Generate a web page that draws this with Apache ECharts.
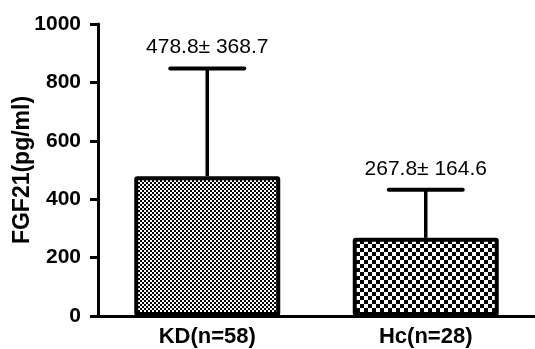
<!DOCTYPE html>
<html><head><meta charset="utf-8">
<script src="https://cdn.jsdelivr.net/npm/echarts@6/dist/echarts.min.js"></script>
<style>html,body{margin:0;padding:0;background:#fff}#c{width:535px;height:349px}</style>
</head><body><div id="c"></div>
<script>
var categories = ['KD(n=58)', 'Hc(n=28)'];
var means = [478.8, 267.8];
var sds = [368.7, 164.6];
var yTicks = [0, 200, 400, 600, 800, 1000];

function checker(size) {
  var c = document.createElement('canvas');
  c.width = size * 2; c.height = size * 2;
  var g = c.getContext('2d');
  g.fillStyle = '#fff'; g.fillRect(0, 0, size * 2, size * 2);
  g.fillStyle = '#000';
  g.fillRect(0, 0, size, size);
  g.fillRect(size, size, size, size);
  return c;
}
var patterns = [checker(2), checker(4)];

var chart = echarts.init(document.getElementById('c'));
var FONT = 'Liberation Sans, Arial, sans-serif';
chart.setOption({
  animation: false,
  grid: {left: 98, right: -2, top: 24, bottom: 33},
  xAxis: {
    type: 'category', data: categories,
    axisLine: {lineStyle: {color: '#000', width: 3}},
    axisTick: {alignWithLabel: true, length: 7, lineStyle: {color: '#000', width: 3}},
    axisLabel: {color: '#000', fontFamily: FONT, fontWeight: 'bold', fontSize: 22, margin: 10}
  },
  yAxis: {
    type: 'value', min: yTicks[0], max: yTicks[yTicks.length - 1], interval: 200,
    name: 'FGF21(pg/ml)', nameLocation: 'middle', nameGap: 64, nameMoveOverlap: false,
    nameTextStyle: {color: '#000', fontFamily: FONT, fontWeight: 'bold', fontSize: 23},
    splitLine: {show: false},
    axisLine: {show: true, lineStyle: {color: '#000', width: 3}},
    axisTick: {show: true, length: 8, lineStyle: {color: '#000', width: 3}},
    axisLabel: {color: '#000', fontFamily: FONT, fontWeight: 'bold', fontSize: 21, margin: 17,
      formatter: function (v) { return String(v); }}
  },
  series: [
    {
      type: 'bar', barWidth: 146,
      data: means.map(function (m, i) {
        return {value: m, itemStyle: {color: {image: patterns[i], repeat: 'repeat'}, borderColor: '#000', borderWidth: 4, borderRadius: 1}};
      })
    },
    {
      type: 'custom', z: 5,
      data: means.map(function (m, i) { return [i, m, sds[i]]; }),
      renderItem: function (params, api) {
        var i = api.value(0), m = api.value(1), s = api.value(2);
        var p0 = api.coord([i, m]);
        var p1 = api.coord([i, m + s]);
        var hw = 37;
        return {
          type: 'group',
          children: [
            {type: 'line', shape: {x1: p0[0], y1: p0[1], x2: p1[0], y2: p1[1]}, style: {stroke: '#000', lineWidth: 3.5}},
            {type: 'line', shape: {x1: p1[0] - hw, y1: p1[1], x2: p1[0] + hw, y2: p1[1]}, style: {stroke: '#000', lineWidth: 4, lineCap: 'round'}},
            {type: 'text', style: {x: p1[0], y: p1[1] - 21, text: m.toFixed(1) + '\u00b1 ' + s.toFixed(1), fill: '#000', font: '21px ' + FONT, align: 'center', verticalAlign: 'middle'}}
          ]
        };
      }
    }
  ]
});
</script></body></html>
